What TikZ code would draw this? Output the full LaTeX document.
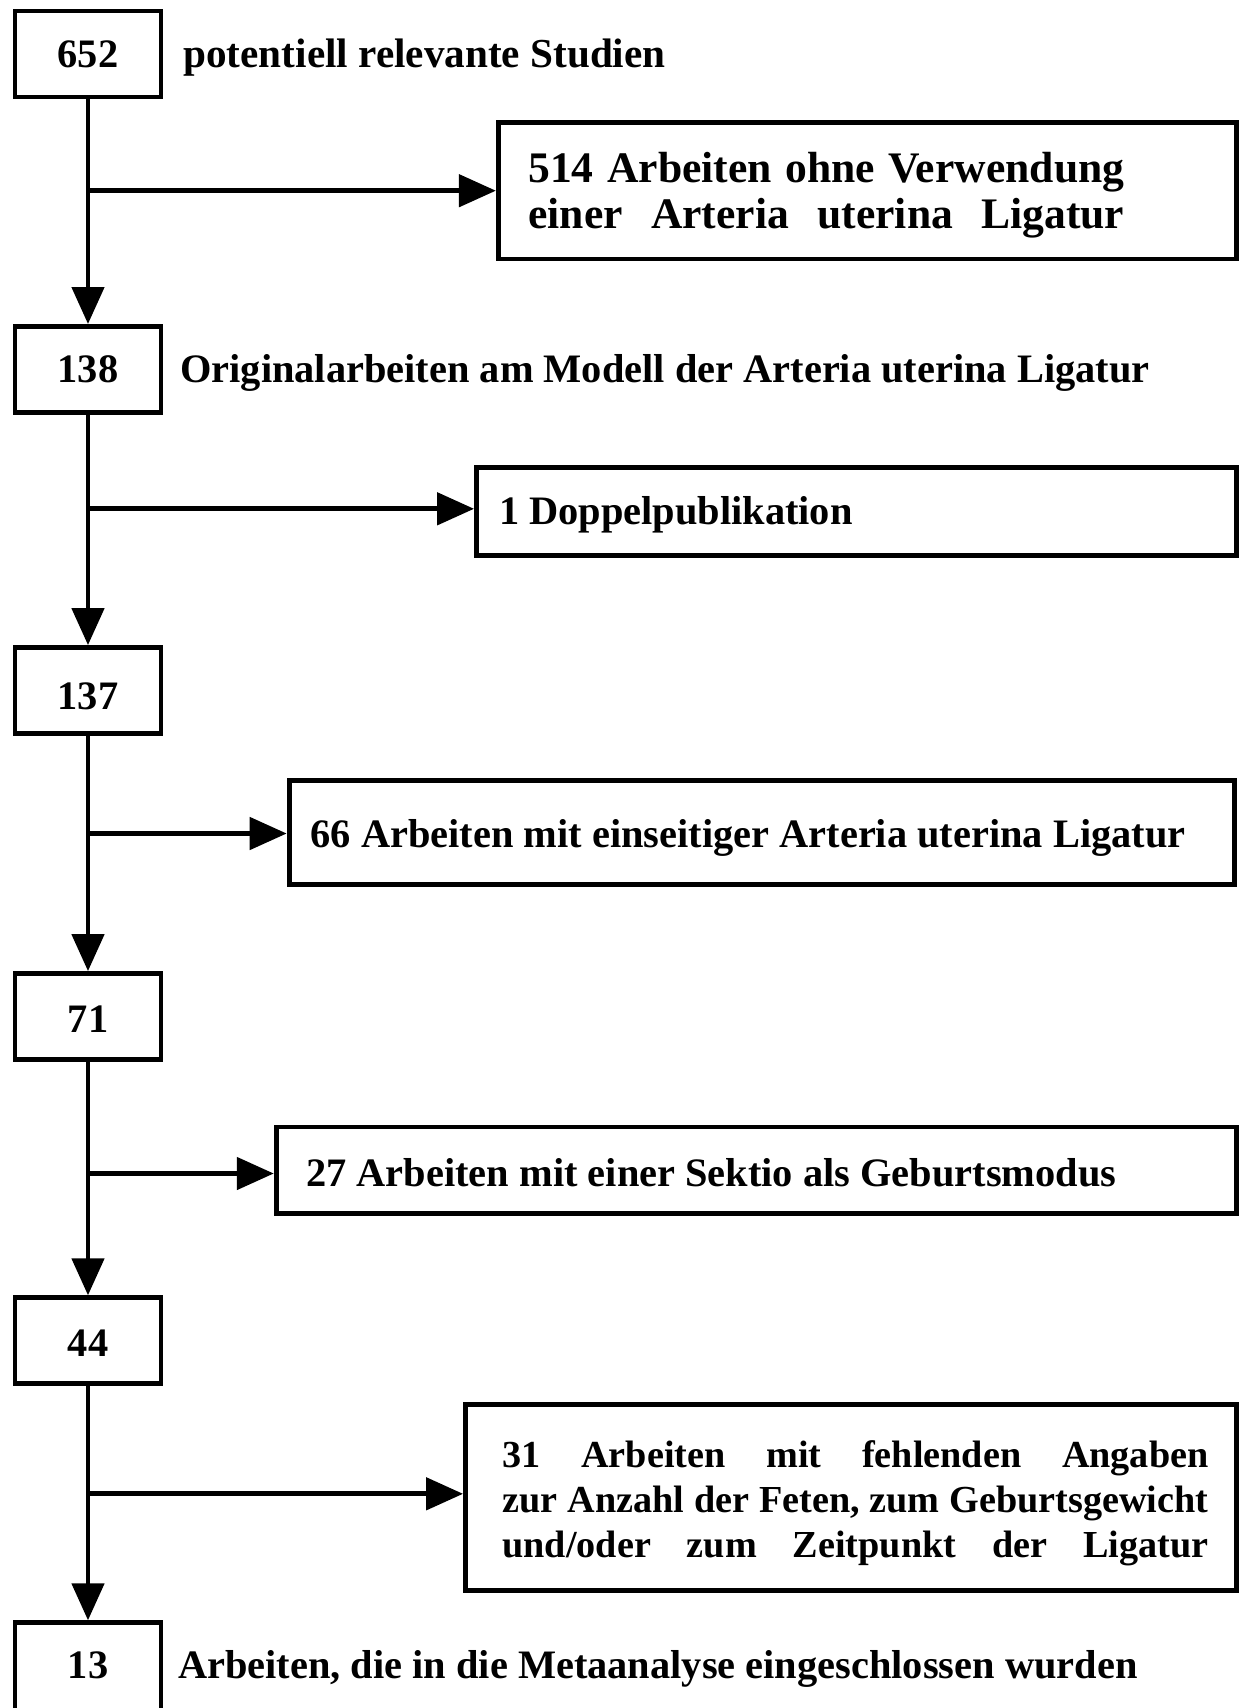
\documentclass[tikz,border=0pt]{standalone}
\usepackage{fontspec}
\setmainfont{Liberation Serif}
\usetikzlibrary{arrows.meta}
% a line of given width whose interword spaces stretch to fill it
\newcommand\jbox[2]{\hbox to #1{\spaceskip=0.25em plus 1fil minus 0.1em\relax #2}}
% content lowered by #1 while the node keeps its natural box (shifts the text down)
\newcommand\sh[2]{\raisebox{-#1}[\height][\depth]{\spaceskip=0pt\xspaceskip=0pt\relax #2}}
\begin{document}
\begin{tikzpicture}[x=0.5pt,y=-0.5pt,
  every node/.style={font=\bfseries\fontsize{20.2pt}{22.35pt}\selectfont, inner sep=0pt},
  numbox/.style={draw, line width=2.4pt, minimum width=73pt, minimum height=43pt},
  sidebox/.style={draw, line width=2.4pt, align=left, inner ysep=0pt},
  lbl/.style={anchor=base west},
  arr/.style={line width=2.4pt, -{Triangle[length=18.5pt,width=16pt]}}]
\useasboundingbox (0,0) rectangle (1241,1708);
\fill[white] (0,0) rectangle (1241,1708);

% left count boxes
\node[numbox] (n652) at (88,54) {652};
\node[numbox] (n138) at (88,369.4) {138};
\node[numbox] (n137) at (88,690.5) {\sh{2.7pt}{137}};
\node[numbox] (n71) at (88,1016.5) {\sh{1.5pt}{71}};
\node[numbox] (n44) at (88,1340.7) {\sh{1pt}{44}};
\node[numbox, minimum height=46pt] (n13) at (88,1668.7) {\sh{-1.5pt}{13}};

% side labels
\node[lbl, font=\bfseries\fontsize{20.6pt}{22.35pt}\selectfont] (t652) at (183,67.4) {potentiell relevante Studien};
\node[lbl] (t138) at (179.8,382.8) {Originalarbeiten am Modell der Arteria uterina Ligatur};
\node[lbl] (t13) at (177.6,1678.4) {Arbeiten, die in die Metaanalyse eingeschlossen wurden};

% exclusion boxes
\node[sidebox, minimum height=68.3pt, text width=339pt, inner xsep=15pt,
      font=\bfseries\fontsize{21.8pt}{22.9pt}\selectfont] (e514) at (867.3,190.7)
  {\sh{2.2pt}{\vbox{\baselineskip=22.9pt
     \jbox{298pt}{514 Arbeiten ohne Verwendung}
     \jbox{298pt}{einer Arteria uterina Ligatur}}}};
\node[sidebox, minimum height=43.8pt, text width=357.5pt, inner xsep=11.25pt] (e1) at (856.5,511.6)
  {\sh{1.6pt}{1 Doppelpublikation}};
\node[sidebox, minimum height=52pt, text width=451.1pt, inner xsep=10.7pt] (e66) at (761.6,832.5)
  {\sh{2.7pt}{66 Arbeiten mit einseitiger Arteria uterina Ligatur}};
\node[sidebox, minimum height=43.25pt, text width=450pt, inner xsep=15pt] (e27) at (756.2,1170.2)
  {\sh{1.1pt}{27 Arbeiten mit einer Sektio als Geburtsmodus}};
\node[sidebox, align=right, minimum height=92.85pt, text width=357.5pt, inner xsep=14pt,
      font=\bfseries\fontsize{19.1pt}{22.35pt}\selectfont] (e31) at (851,1497.6)
  {\sh{2.9pt}{\vbox{\baselineskip=22.35pt
     \jbox{353pt}{31 Arbeiten mit fehlenden Angaben}
     \jbox{353pt}{zur Anzahl der Feten, zum Geburtsgewicht}
     \jbox{353pt}{und/oder zum Zeitpunkt der Ligatur}}}};

% junctions on the main line
\coordinate (j1) at (88,190.7);
\coordinate (j2) at (88,508.8);
\coordinate (j3) at (88,833.5);
\coordinate (j4) at (88,1173.5);
\coordinate (j5) at (88,1493.8);

% main flow
\draw[arr] (n652) -- (n138);
\draw[arr] (n138) -- (n137);
\draw[arr] (n137) -- (n71);
\draw[arr] (n71) -- (n44);
\draw[arr] (n44) -- (n13);

% branches
\draw[arr] (j1) -- (j1 -| e514.west);
\draw[arr] (j2) -- (j2 -| e1.west);
\draw[arr] (j3) -- (j3 -| e66.west);
\draw[arr] (j4) -- (j4 -| e27.west);
\draw[arr] (j5) -- (j5 -| e31.west);
\end{tikzpicture}
\end{document}
